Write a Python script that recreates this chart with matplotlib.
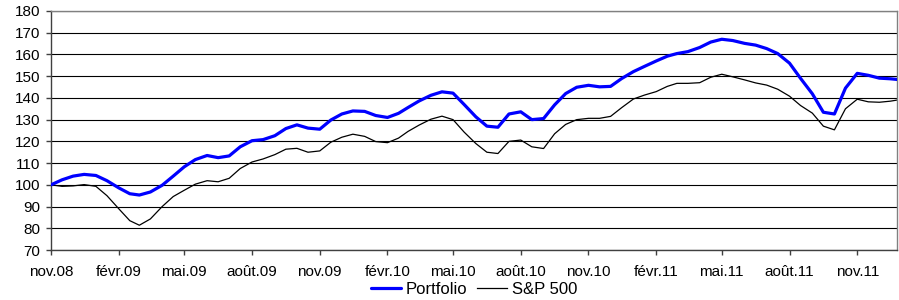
import matplotlib
matplotlib.use("Agg")
import matplotlib.pyplot as plt
import pandas as pd

plt.rcParams['font.family'] = ['Liberation Sans', 'DejaVu Sans']

# semi-monthly observation dates (1st and 16th of each month), Nov 2008 - Dec 2011
dates = []
for y in range(2008, 2012):
    for m in range(1, 13):
        if (y == 2008 and m < 11):
            continue
        dates.append(pd.Timestamp(y, m, 1))
        dates.append(pd.Timestamp(y, m, 16))
dates.append(pd.Timestamp(2011, 12, 25))
dates = pd.to_datetime(dates)

portfolio = [
    100.0, 102.3, 104.0, 104.8, 104.3, 101.9, 98.6, 95.9, 95.3, 96.7,
    99.8, 104.0, 108.3, 111.6, 113.5, 112.5, 113.3, 117.5, 120.3, 120.8,
    122.6, 125.9, 127.6, 126.1, 125.6, 129.8, 132.6, 134.0, 133.8, 131.9,
    131.0, 132.9, 135.6, 138.6, 141.2, 142.8, 142.2, 137.0, 131.3, 127.0,
    126.5, 132.6, 133.6, 130.0, 130.5, 136.8, 142.0, 144.9, 145.8, 145.1,
    145.3, 148.9, 152.1, 154.5, 157.0, 159.2, 160.4, 161.3, 163.2, 165.7,
    167.0, 166.4, 165.1, 164.3, 162.7, 160.4, 156.0, 149.0, 141.9, 133.4,
    132.6, 144.5, 151.3, 150.4, 149.1, 148.8, 148.5,
]

sp500 = [
    100.0, 99.3, 99.5, 100.1, 99.3, 95.0, 89.0, 83.5, 81.4, 84.3,
    90.0, 94.6, 97.5, 100.3, 101.9, 101.4, 103.0, 107.5, 110.5, 111.9,
    113.9, 116.4, 116.8, 115.0, 115.6, 119.6, 121.9, 123.3, 122.3, 119.9,
    119.4, 121.5, 124.6, 127.5, 130.2, 131.6, 130.0, 124.3, 119.0, 115.0,
    114.4, 120.0, 120.6, 117.5, 116.7, 123.5, 127.8, 130.0, 130.6, 130.6,
    131.5, 135.5, 139.5, 141.3, 142.9, 145.3, 146.7, 146.7, 147.0, 149.5,
    150.9, 149.7, 148.3, 146.9, 145.9, 144.0, 140.8, 136.5, 133.0, 127.0,
    125.3, 135.0, 139.4, 138.2, 138.0, 138.5, 139.0,
]

tick_dates = pd.date_range("2008-11-01", "2011-11-01", freq="3MS")
tick_labels = ["nov.08", "févr.09", "mai.09", "août.09", "nov.09", "févr.10",
               "mai.10", "août.10", "nov.10", "févr.11", "mai.11", "août.11", "nov.11"]
y_ticks = list(range(70, 181, 10))

fig = plt.figure(figsize=(8.99, 3.0), dpi=100)
ax = fig.add_axes([51/899, 50/300, 846/899, 239/300])

ax.plot(dates, portfolio, color='#0000FF', lw=2.3, label='Portfolio', zorder=3,
        solid_joinstyle='round', solid_capstyle='round')
ax.plot(dates, sp500, color='black', lw=0.9, label='S&P 500', zorder=2)

ax.set_ylim(70, 180)
ax.set_yticks(y_ticks)
ax.set_xlim(pd.Timestamp("2008-11-01"), pd.Timestamp("2011-12-25"))
ax.set_xticks(tick_dates)
ax.set_xticklabels(tick_labels)

ax.yaxis.grid(True, color='black', lw=0.8)
ax.set_axisbelow(True)

for s in ['top', 'right']:
    ax.spines[s].set_color('#808080')
    ax.spines[s].set_linewidth(1.0)
for s in ['left', 'bottom']:
    ax.spines[s].set_color('#404040')
    ax.spines[s].set_linewidth(1.0)

ax.tick_params(axis='both', direction='out', length=3.5, width=1.0, color='#404040',
               labelsize=11, pad=4)
ax.tick_params(axis='x', pad=7)

leg = fig.legend(loc='center', bbox_to_anchor=(474/899, 0.036), ncol=2, frameon=False,
                 fontsize=12, handlelength=1.8, handletextpad=0.3, columnspacing=0.55,
                 borderpad=0, borderaxespad=0)

fig.savefig("out.png", dpi=100)
